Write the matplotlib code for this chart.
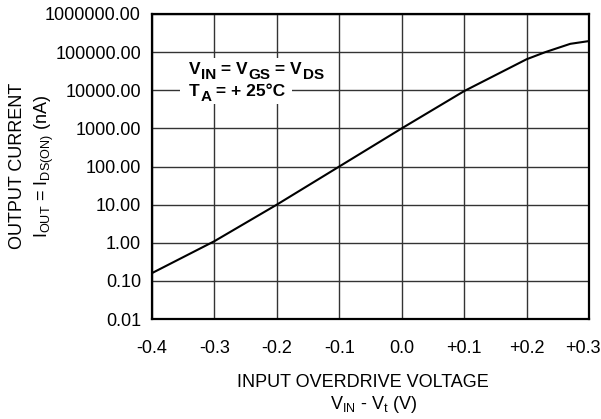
import numpy as np
import matplotlib.pyplot as plt
import matplotlib.transforms as mtransforms
from matplotlib.patches import Rectangle
from matplotlib.ticker import FixedLocator, NullLocator

plt.rcParams['font.family'] = ['Liberation Sans', 'DejaVu Sans']
plt.rcParams['mathtext.fontset'] = 'custom'
plt.rcParams['mathtext.rm'] = 'Liberation Sans'
plt.rcParams['mathtext.it'] = 'Liberation Sans'
plt.rcParams['mathtext.bf'] = 'Liberation Sans:bold'

# curve
overdrive = [-0.4, -0.3, -0.2, -0.1, 0.0, 0.1, 0.2, 0.23, 0.27, 0.3]
current_na = [0.16, 1.1, 10, 100, 1000, 9500, 65000, 100000, 165000, 195000]

x_ticks = [-0.4, -0.3, -0.2, -0.1, 0.0, 0.1, 0.2, 0.3]
x_labels = ["-0.4", "-0.3", "-0.2", "-0.1", "0.0", "+0.1", "+0.2", "+0.3"]
y_ticks = [0.01, 0.1, 1, 10, 100, 1000, 10000, 100000, 1000000]
y_labels = ["0.01", "0.10", "1.00", "10.00", "100.00", "1000.00",
            "10000.00", "100000.00", "1000000.00"]

# (text, is_subscript) pieces of the two note lines
note1 = [("V", False), ("IN", True), (" = V", False), ("GS", True),
         (" = V", False), ("DS", True)]
note2 = [("T", False), ("A", True), (" = + 25°C", False)]

fig = plt.figure(figsize=(6.01, 4.19), dpi=100)
ax = fig.add_axes([152 / 601, 1 - 319 / 419, 437 / 601, 305 / 419])

ax.plot(overdrive, current_na, color="black", lw=1.5, zorder=3)

ax.set_yscale("log")
ax.set_xlim(-0.4, 0.3)
ax.set_ylim(0.01, 1e6)
ax.xaxis.set_major_locator(FixedLocator(x_ticks))
ax.set_xticklabels(x_labels)
ax.yaxis.set_major_locator(FixedLocator(y_ticks))
ax.yaxis.set_minor_locator(NullLocator())
ax.set_yticklabels(y_labels)
ax.tick_params(length=0, labelsize=13, colors="black")
ax.tick_params(axis="x", pad=15)
ax.tick_params(axis="y", pad=8)
ax.grid(True, color="#333333", lw=1.0)
for s in ax.spines.values():
    s.set_linewidth(1.6)

# pull the last x label in a little so it fits
last = ax.get_xticklabels()[-1]
last.set_transform(last.get_transform()
                   + mtransforms.ScaledTranslation(-6 / 100, 0, fig.dpi_scale_trans))

# white patches behind the note
ax.add_patch(Rectangle((0.064, 0.777), 0.336, 0.079, transform=ax.transAxes,
                       facecolor="white", edgecolor="none", zorder=2))
ax.add_patch(Rectangle((0.064, 0.705), 0.256, 0.075, transform=ax.transAxes,
                       facecolor="white", edgecolor="none", zorder=2))


def note_line(pieces, x, y):
    first = ax.text(x, y, pieces[0][0], transform=ax.transAxes, fontsize=12.5,
                    fontweight="bold", va="baseline", ha="left", zorder=4)
    prev = first
    for txt, sub in pieces[1:]:
        prev = ax.annotate(txt, xy=(1, 0), xycoords=(prev, first),
                           xytext=(0.3 if sub else 0, -3.5 if sub else 0),
                           textcoords="offset points",
                           fontsize=11 if sub else 12.5, fontweight="bold",
                           va="bottom", ha="left", zorder=4)


note_line(note1, 0.085, 0.803)
note_line(note2, 0.085, 0.731)

fig.text(18 / 601, 1 - 166 / 419, "OUTPUT CURRENT", rotation=90,
         ha="center", va="center", fontsize=13)
fig.text(44 / 601, 1 - 166 / 419, r"$\mathrm{I_{OUT}}$ = $\mathrm{I_{DS(ON)}}$ (nA)",
         rotation=90, ha="center", va="center", fontsize=13)
fig.text(363 / 601, 1 - 382 / 419, "INPUT OVERDRIVE VOLTAGE",
         ha="center", va="center", fontsize=13)
fig.text(374 / 601, 1 - 404 / 419, r"$\mathrm{V_{IN}}$ - $\mathrm{V_{t}}$ (V)",
         ha="center", va="center", fontsize=13)

fig.savefig("out.png", dpi=100)
